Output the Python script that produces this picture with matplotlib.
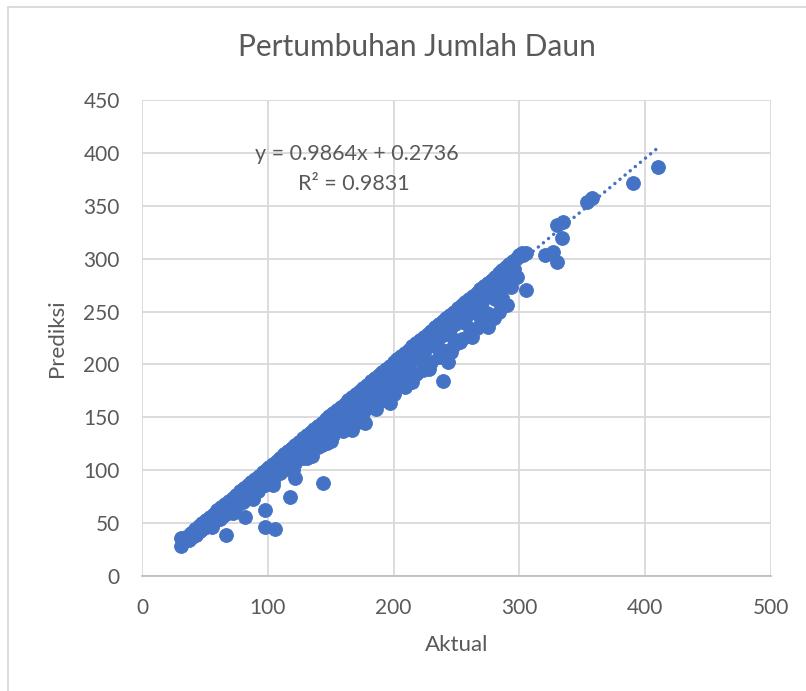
import numpy as np
import matplotlib
matplotlib.use("Agg")
from matplotlib import pyplot as plt
from matplotlib.lines import Line2D

# values (Aktual, Prediksi)
aktual_rendah = [31, 31, 33, 35, 37, 39, 40, 42, 43, 45, 46, 48, 49, 51, 52, 54, 55, 57, 58, 60,
                 61, 63, 64, 66, 67, 67, 69, 70, 72, 73, 75, 76, 78, 79, 81, 82, 82, 84, 85, 87,
                 88, 90, 91, 93, 94, 96, 97, 98, 98, 99]
prediksi_rendah = [28, 36, 35, 37, 34, 41, 37, 44, 39, 47, 43, 50, 45, 53, 47, 56, 50, 59, 52, 62,
                   55, 65, 57, 68, 39, 60, 71, 63, 74, 66, 77, 68, 80, 70, 83, 56, 74, 86, 76, 89,
                   79, 92, 81, 95, 84, 98, 87, 46, 62, 101]

aktual_tengah = [101, 102, 104, 105, 106, 107, 108, 110, 111, 113, 114, 116, 117, 118, 119, 120,
                 122, 122, 123, 125, 126, 128, 129, 131, 131, 132, 134, 135, 137, 138, 140, 141,
                 143, 143, 144, 144, 146, 147, 147, 149, 150, 152, 153, 155, 156, 158, 159, 161,
                 162, 164, 165, 167, 167, 168, 170, 171, 173, 174, 176, 177, 177, 179, 180, 182,
                 183, 185, 186, 188, 189, 191, 192, 194, 194, 195, 197, 197, 198]
prediksi_tengah = [103, 92, 106, 95, 44, 109, 98, 112, 100, 115, 104, 118, 106, 75, 121, 109,
                   93, 124, 112, 127, 114, 130, 117, 112, 133, 121, 136, 124, 139, 127, 142, 130,
                   124, 145, 88, 133, 148, 126, 136, 151, 139, 154, 142, 157, 145, 160, 148, 163,
                   151, 166, 154, 138, 169, 157, 172, 160, 175, 163, 178, 145, 166, 181, 169, 184,
                   172, 187, 175, 190, 178, 193, 181, 166, 196, 184, 164, 199, 187]

aktual_atas = [200, 201, 203, 204, 206, 207, 209, 209, 210, 212, 213, 215, 216, 218, 218, 219,
               221, 222, 223, 224, 225, 227, 228, 229, 230, 231, 233, 234, 236, 237, 238, 239,
               239, 240, 242, 243, 243, 245, 246, 248, 249, 251, 252, 253, 254, 255, 257, 258,
               260, 261, 263, 264, 266, 267, 269, 269, 270, 272, 274, 275, 275, 276, 278, 279,
               281, 282, 284, 286, 286, 287, 289, 291, 292, 293, 295, 296, 298, 298, 300, 302,
               303, 305, 305]
prediksi_atas = [202, 190, 205, 193, 208, 196, 179, 211, 199, 214, 202, 217, 205, 206, 220, 208,
                 223, 211, 195, 226, 214, 229, 217, 221, 232, 220, 235, 223, 238, 226, 214, 184,
                 241, 229, 244, 202, 232, 247, 235, 250, 238, 253, 241, 221, 256, 244, 259, 247,
                 262, 250, 265, 253, 268, 256, 245, 271, 259, 274, 249, 235, 277, 265, 280, 268,
                 283, 271, 286, 263, 289, 276, 292, 275, 295, 282, 298, 290, 283, 301, 303, 305,
                 303, 270, 305]

# lower part of the band (prediction below actual)
aktual_bawah = [62, 68, 74, 80, 86, 92, 98, 104, 110, 116, 122, 128, 134, 140, 146, 152, 158,
                164, 170, 176, 182, 188, 194, 200, 206, 212, 218, 224, 230, 236, 242, 248, 254,
                260, 266, 272, 278, 284, 290]
prediksi_bawah = [54, 60, 64, 70, 76, 80, 86, 90, 97, 101, 107, 112, 118, 122, 128, 133, 139,
                  143, 149, 154, 160, 165, 170, 176, 181, 185, 191, 197, 202, 207, 213, 218, 224,
                  228, 234, 239, 245, 250, 256]

aktual_sela = [65, 77, 89, 101, 113, 125, 137, 149, 161, 173, 185, 197, 209, 221, 233, 245,
               257, 269, 281, 293]
prediksi_sela = [60, 72, 83, 94, 105, 116, 127, 139, 150, 161, 172, 183, 194, 206, 217, 228,
                 239, 250, 262, 273]

aktual_sebar = [56, 72, 88, 104, 120, 135, 150, 160, 172, 186, 200, 215, 228, 246, 262, 280]
prediksi_sebar = [46, 60, 73, 86, 100, 113, 128, 137, 146, 158, 172, 183, 196, 212, 226, 244]

aktual_ujung = [320, 327, 330, 330, 334, 335, 354, 358, 390, 410]
prediksi_ujung = [303, 306, 297, 332, 320, 335, 354, 357, 372, 387]

slope, intercept = 0.9864, 0.2736
eq_text = "y = 0.9864x + 0.2736"
r2_text = "R² = 0.9831"

blue = "#4472C4"
grey_text = "#595959"
grid_col = "#D9D9D9"

plt.rcParams['font.family'] = ['Lato', 'DejaVu Sans']

x = np.array(aktual_rendah + aktual_tengah + aktual_atas + aktual_bawah + aktual_sela
             + aktual_sebar + aktual_ujung, dtype=float)
y = np.array(prediksi_rendah + prediksi_tengah + prediksi_atas + prediksi_bawah + prediksi_sela
             + prediksi_sebar + prediksi_ujung, dtype=float)

fig = plt.figure(figsize=(8.06, 6.91), dpi=100)
ax = fig.add_axes([142/806, 1 - 576/691, (771 - 142)/806, (576 - 100)/691])

ax.scatter(x, y, s=100, color=blue, edgecolors=blue, linewidths=0.6, zorder=3)

xt = np.array([x.min(), x.max()])
ax.plot(xt, slope*xt + intercept, color=blue, linewidth=2.5,
        linestyle=(0, (0.01, 1.9)), dash_capstyle='round', zorder=4)

ax.set_xlim(0, 500)
ax.set_ylim(0, 450)
ax.set_xticks(np.arange(0, 501, 100))
ax.set_yticks(np.arange(0, 451, 50))
ax.grid(True, color=grid_col, linewidth=1.3, zorder=0)
ax.set_axisbelow(True)
for s in ['top', 'right', 'left']:
    ax.spines[s].set_visible(False)
ax.spines['bottom'].set_color("#BFBFBF")
ax.spines['bottom'].set_linewidth(1.3)
ax.tick_params(length=0, labelsize=15, labelcolor=grey_text, pad=16)

ax.set_xlabel("Aktual", fontsize=16, color=grey_text, labelpad=12)
ax.set_ylabel("Prediksi", fontsize=16, color=grey_text, labelpad=12)
fig.text(0.5175, 1 - 47/691, "Pertumbuhan Jumlah Daun", fontsize=21.5, color=grey_text,
         ha='center', va='center')

ax.text(171, 399, eq_text, fontsize=15.5, color=grey_text, ha='center', va='center')
ax.text(168.6, 371, r2_text, fontsize=15.5, color=grey_text, ha='center', va='center')

# outer chart frame (left and top edges visible)
fig.add_artist(Line2D([8/806, 8/806], [0, 1 - 7/691], color=grid_col, linewidth=1.3))
fig.add_artist(Line2D([8/806, 1], [1 - 7/691, 1 - 7/691], color=grid_col, linewidth=1.3))

fig.savefig("out.png", dpi=100)
